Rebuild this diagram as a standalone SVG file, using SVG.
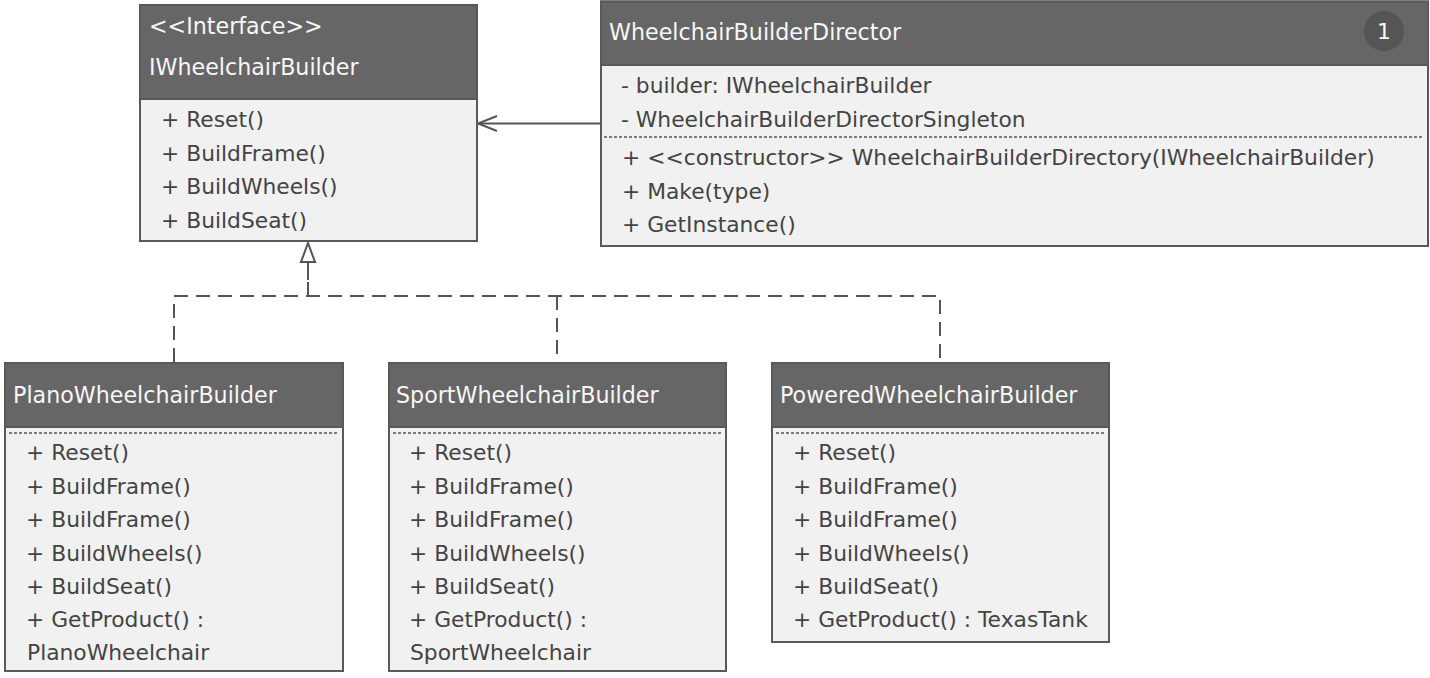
<svg xmlns="http://www.w3.org/2000/svg" width="1430" height="678" viewBox="0 0 1430 678">
<defs>
<style>
.box{fill:#f1f1f1;stroke:#595959;stroke-width:2}
.hdr{fill:#666666;stroke:#595959;stroke-width:2}
.ht{font-family:"DejaVu Sans",sans-serif;font-size:22.2px;fill:#f7f7f7}
.mt{font-family:"DejaVu Sans",sans-serif;font-size:21.8px;fill:#444444}
.dot{stroke:#555555;stroke-width:1.5;stroke-dasharray:3 2;fill:none}
.conn{stroke:#555555;stroke-width:2;fill:none}
.dash{stroke:#555555;stroke-width:2;fill:none;stroke-dasharray:14 8}
</style>
</defs>
<rect width="1430" height="678" fill="#ffffff"/>
<g id="connectors">
<line class="conn" x1="601" y1="123.5" x2="478" y2="123.5"/>
<polyline class="conn" points="497,116 478,123.5 497,131"/>
<line class="conn" x1="308" y1="262" x2="308" y2="280"/>
<polyline class="dash" points="174,362 174,296 940,296 940,362"/>
<line class="dash" x1="557" y1="296" x2="557" y2="362"/>
<line class="dash" x1="308" y1="296" x2="308" y2="276"/>
<polygon points="308,243 301,262 315,262" fill="#ffffff" stroke="#555555" stroke-width="2"/>
</g>
<g id="IWheelchairBuilder">
<rect class="box" x="140" y="5" width="337" height="236"/>
<rect class="hdr" x="140" y="5" width="337" height="94"/>
<text class="ht" x="149" y="34">&lt;&lt;Interface&gt;&gt;</text>
<text class="ht" x="149" y="75">IWheelchairBuilder</text>
<text class="mt" x="161" y="127">+ Reset()</text>
<text class="mt" x="161" y="161">+ BuildFrame()</text>
<text class="mt" x="161" y="194">+ BuildWheels()</text>
<text class="mt" x="161" y="228">+ BuildSeat()</text>
</g>
<g id="WheelchairBuilderDirector">
<rect class="box" x="601" y="1.5" width="827" height="244.5"/>
<rect class="hdr" x="601" y="1.5" width="827" height="63.5"/>
<text class="ht" x="609" y="40">WheelchairBuilderDirector</text>
<circle cx="1384" cy="31" r="20" fill="#555555"/>
<text x="1384" y="39" text-anchor="middle" style="font-family:'DejaVu Sans',sans-serif;font-size:22px;fill:#f7f7f7">1</text>
<text class="mt" x="621" y="93">- builder: IWheelchairBuilder</text>
<text class="mt" x="621" y="127">- WheelchairBuilderDirectorSingleton</text>
<line class="dot" x1="604" y1="137" x2="1424" y2="137"/>
<text class="mt" x="622" y="165">+ &lt;&lt;constructor&gt;&gt; WheelchairBuilderDirectory(IWheelchairBuilder)</text>
<text class="mt" x="622" y="199">+ Make(type)</text>
<text class="mt" x="622" y="232">+ GetInstance()</text>
</g>
<g id="PlanoWheelchairBuilder">
<rect class="box" x="5" y="363" width="338" height="308"/>
<rect class="hdr" x="5" y="363" width="338" height="64"/>
<line class="dot" x1="9" y1="433" x2="339" y2="433"/>
<text class="ht" x="13" y="403">PlanoWheelchairBuilder</text>
<text class="mt" x="26" y="460">+ Reset()</text>
<text class="mt" x="26" y="494">+ BuildFrame()</text>
<text class="mt" x="26" y="527">+ BuildFrame()</text>
<text class="mt" x="26" y="561">+ BuildWheels()</text>
<text class="mt" x="26" y="594">+ BuildSeat()</text>
<text class="mt" x="26" y="627">+ GetProduct() :</text>
<text class="mt" x="27" y="660">PlanoWheelchair</text>
</g>
<g id="SportWheelchairBuilder">
<rect class="box" x="389" y="363" width="337" height="308"/>
<rect class="hdr" x="389" y="363" width="337" height="64"/>
<line class="dot" x1="393" y1="433" x2="722" y2="433"/>
<text class="ht" x="396" y="403">SportWheelchairBuilder</text>
<text class="mt" x="409" y="460">+ Reset()</text>
<text class="mt" x="409" y="494">+ BuildFrame()</text>
<text class="mt" x="409" y="527">+ BuildFrame()</text>
<text class="mt" x="409" y="561">+ BuildWheels()</text>
<text class="mt" x="409" y="594">+ BuildSeat()</text>
<text class="mt" x="409" y="627">+ GetProduct() :</text>
<text class="mt" x="410" y="660">SportWheelchair</text>
</g>
<g id="PoweredWheelchairBuilder">
<rect class="box" x="772" y="363" width="337" height="279"/>
<rect class="hdr" x="772" y="363" width="337" height="64"/>
<line class="dot" x1="776" y1="433" x2="1105" y2="433"/>
<text class="ht" x="780" y="403">PoweredWheelchairBuilder</text>
<text class="mt" x="793" y="460">+ Reset()</text>
<text class="mt" x="793" y="494">+ BuildFrame()</text>
<text class="mt" x="793" y="527">+ BuildFrame()</text>
<text class="mt" x="793" y="561">+ BuildWheels()</text>
<text class="mt" x="793" y="594">+ BuildSeat()</text>
<text class="mt" x="793" y="627">+ GetProduct() : TexasTank</text>
</g>
</svg>
